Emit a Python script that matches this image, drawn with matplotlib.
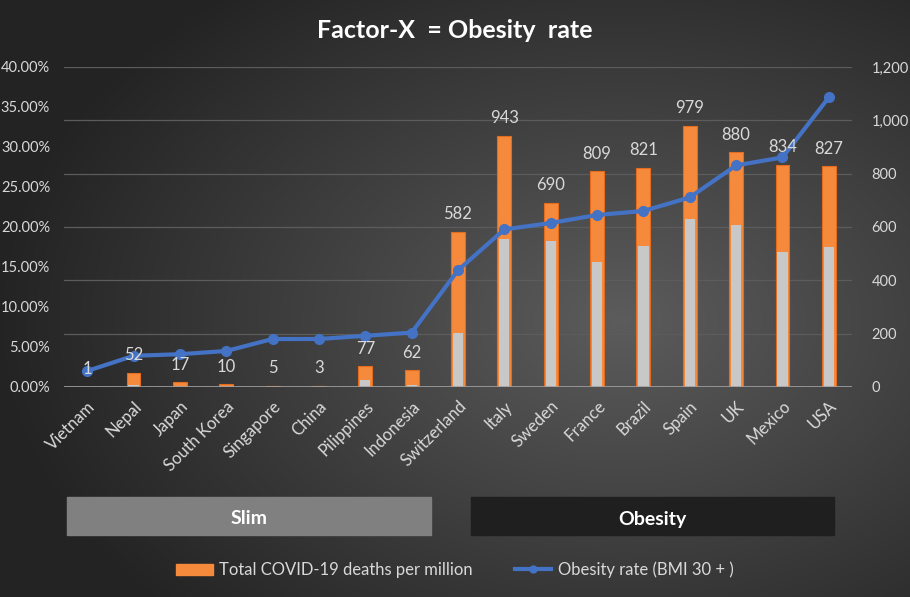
import numpy as np
import matplotlib
matplotlib.use("Agg")
import matplotlib.pyplot as plt
from matplotlib.patches import Rectangle
from matplotlib.lines import Line2D
from matplotlib.ticker import FuncFormatter

plt.rcParams['font.family'] = ['Lato', 'DejaVu Sans']

countries = ['Vietnam', 'Nepal', 'Japan', 'South Korea', 'Singapore', 'China',
             'Pilippines', 'Indonesia', 'Switzerland', 'Italy', 'Sweden', 'France',
             'Brazil', 'Spain', 'UK', 'Mexico', 'USA']
deaths = [1, 52, 17, 10, 5, 3, 77, 62, 582, 943, 690, 809, 821, 979, 880, 834, 827]
# gray inner bars (unlabelled series)
gray_part = [0, 9, 0, 0, 0, 0, 26, 9, 201, 554, 546, 469, 529, 629, 609, 505, 526]
obesity = [2.0, 3.9, 4.1, 4.5, 6.0, 6.0, 6.4, 6.8, 14.6, 19.7, 20.5, 21.5, 22.0,
           23.7, 27.7, 28.7, 36.2]

W, H = 910, 597
fig = plt.figure(figsize=(W / 100, H / 100), dpi=100)

# background gradient
bg = fig.add_axes([0, 0, 1, 1], zorder=-10)
yy, xx = np.mgrid[0:H, 0:W]
d = np.sqrt(((xx - 620) / 620.0) ** 2 + ((yy - 320) / 420.0) ** 2)
shade = np.clip(0.36 - 0.22 * d, 0.14, 0.36)
bg.imshow(np.dstack([shade] * 3), aspect='auto', extent=[0, 1, 0, 1])
bg.set_axis_off()

txt = '#d9d9d9'
ax = fig.add_axes([64 / W, 1 - 387 / H, 788 / W, 320 / H])
ax.set_facecolor('none')
x = np.arange(len(countries))
ax.bar(x, deaths, width=0.3, color='#f58a3c', edgecolor='#e46c1c', linewidth=0.8, zorder=2)
ax.bar(x, gray_part, width=0.22, color='#c8c8c8', linewidth=0, zorder=3)
ax.set_ylim(0, 1200)
ax.set_xlim(-0.5, len(countries) - 0.5)
ax.grid(axis='y', color='#5c5c5c', linewidth=0.9, zorder=0)
ax.set_axisbelow(True)
for s in ax.spines.values():
    s.set_visible(False)
ax.axhline(0, color='#a0a0a0', linewidth=1.2, zorder=4)
ax.set_xticks(x)
ax.set_xticklabels(countries, rotation=45, ha='right', rotation_mode='anchor',
                   color=txt, fontsize=12)
ax.tick_params(axis='x', length=0, pad=8)

ax2 = ax.twinx()
ax2.plot(x, obesity, color='#4472c4', linewidth=3, marker='o', markersize=7, zorder=5)
ax2.set_ylim(0, 40)
for s in ax2.spines.values():
    s.set_visible(False)

# deaths axis on the right, obesity % on the left
ax.yaxis.tick_right()
ax.set_yticks(range(0, 1201, 200))
ax.yaxis.set_major_formatter(FuncFormatter(lambda v, p: f'{int(v):,}'))
ax.tick_params(axis='y', length=0, colors=txt, labelsize=10.5, pad=14)
ax2.yaxis.tick_left()
ax2.set_yticks(range(0, 41, 5))
ax2.yaxis.set_major_formatter(FuncFormatter(lambda v, p: f'{v:.2f}%'))
ax2.tick_params(axis='y', length=0, colors=txt, labelsize=10.5, pad=10)

for xi, v in zip(x, deaths):
    ax2.annotate(str(v), (xi, v), xycoords=ax.transData, xytext=(0, 7),
                 textcoords='offset points', ha='center', va='bottom',
                 color=txt, fontsize=12, zorder=6)

fig.text(0.5, 1 - 31 / H, 'Factor-X  = Obesity  rate', ha='center', va='center',
         color='white', fontsize=18, fontweight='bold')

# group boxes
fig.patches.append(Rectangle((67 / W, 1 - 535 / H), 364 / W, 38 / H,
                             transform=fig.transFigure, color='#808080', zorder=1))
fig.patches.append(Rectangle((471 / W, 1 - 535 / H), 363 / W, 38 / H,
                             transform=fig.transFigure, color='#1f1f1f', zorder=1))
fig.text(249 / W, 1 - 519 / H, 'Slim', ha='center', va='center', color='white',
         fontsize=14, fontweight='bold')
fig.text(652 / W, 1 - 519 / H, 'Obesity', ha='center', va='center', color='white',
         fontsize=14, fontweight='bold')

handles = [Rectangle((0, 0), 1, 1, color='#f58a3c'),
           Line2D([], [], color='#4472c4', linewidth=3, marker='o', markersize=5)]
fig.legend(handles, ['Total COVID-19 deaths per million', 'Obesity rate (BMI 30 + )'],
           loc='center', bbox_to_anchor=(0.5, 1 - 570 / H), ncol=2, frameon=False,
           labelcolor=txt, fontsize=12, columnspacing=2.5, handlelength=2.2,
           handletextpad=0.4)

fig.savefig('out.png', dpi=100)
